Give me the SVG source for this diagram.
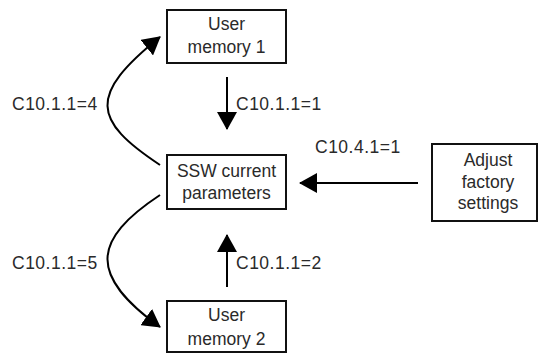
<svg xmlns="http://www.w3.org/2000/svg" width="540" height="354" viewBox="0 0 540 354">
<defs>
<style>
.box{fill:#fff;stroke:#111;stroke-width:2}
.t{font-family:"Liberation Sans",Arial,sans-serif;font-size:17.5px;fill:#2a2a2a}
.c{text-anchor:middle}
.lbl{letter-spacing:0.5px}
.con{fill:none;stroke:#000;stroke-width:2;marker-end:url(#ah)}
</style>
<marker id="ah" markerUnits="userSpaceOnUse" viewBox="0 0 18 20" refX="17" refY="10" markerWidth="18" markerHeight="20" orient="auto">
<path d="M0,0 L18,10 L0,20 z" fill="#000"/>
</marker>
</defs>
<rect width="540" height="354" fill="#fff"/>
<g id="connectors">
<path class="con" d="M227,77 L227,129"/>
<path class="con" d="M227,287 L227,235"/>
<path class="con" d="M418,183 L300,183"/>
<path class="con" d="M160,165 C92,120 88,95 160,37"/>
<path class="con" d="M160,195 C92,240 88,275 160,327"/>
<text class="t lbl" x="236" y="110">C10.1.1=1</text>
<text class="t lbl" x="236" y="269">C10.1.1=2</text>
<text class="t lbl" x="12" y="110">C10.1.1=4</text>
<text class="t lbl" x="12" y="269">C10.1.1=5</text>
<text class="t lbl" x="315" y="153">C10.4.1=1</text>
</g>
<g id="user-memory-1">
<rect class="box" x="167" y="10" width="119" height="53"/>
<text class="t c" x="226.5" y="30">User</text>
<text class="t c" x="226.5" y="53">memory 1</text>
</g>
<g id="ssw-current-parameters">
<rect class="box" x="167" y="155" width="119" height="54"/>
<text class="t c" x="226.5" y="177">SSW current</text>
<text class="t c" x="226.5" y="199">parameters</text>
</g>
<g id="user-memory-2">
<rect class="box" x="167" y="301" width="119" height="51"/>
<text class="t c" x="226.5" y="321">User</text>
<text class="t c" x="226.5" y="345">memory 2</text>
</g>
<g id="adjust-factory-settings">
<rect class="box" x="432" y="144" width="105" height="77"/>
<text class="t c" x="488" y="166">Adjust</text>
<text class="t c" x="488" y="188">factory</text>
<text class="t c" x="488" y="209">settings</text>
</g>
</svg>
